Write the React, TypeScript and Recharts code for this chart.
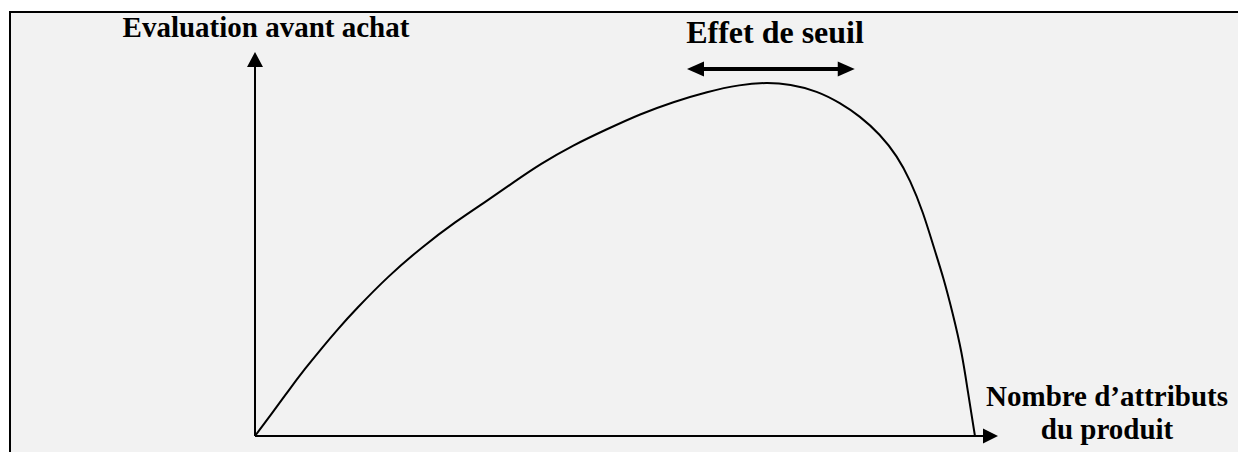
import { LineChart, Line, XAxis, YAxis, ReferenceLine } from "recharts";

// courbe : évaluation avant achat selon le nombre d'attributs (unités arbitraires)
const attributs = [0, 2.4, 4.6, 6.9, 9.3, 11.5, 13.9, 18.5, 23.2, 27.8, 32.4, 36, 39.6, 44.2, 48.9, 53.5, 58.1, 62.8, 67.4, 71.1, 74.3, 78.1, 81.3, 84, 86.8, 89.2, 91, 92.8, 94.4, 95.6, 96.9, 98.2, 99, 100];
const evaluation = [0, 6.5, 12.7, 18.9, 24.9, 30.2, 35.6, 45.2, 53.4, 60.5, 66.7, 71.8, 76.8, 82.2, 86.7, 91, 94.4, 97.3, 99.3, 99.9, 99.4, 97.5, 94.1, 90.4, 85.3, 79.1, 72.3, 63.3, 52.5, 44.9, 34.8, 23.5, 12.7, 0];

// zone "effet de seuil"
const seuilDebut = 60;
const seuilFin = 83.3;
const seuilNiveau = 103.7;

const xMax = 103.2;
const yMax = 108.5;

const data = attributs.map((x, i) => ({ x, y: evaluation[i] }));

const font = '"Liberation Serif", "Times New Roman", serif';

type Pts = { x1?: number; y1?: number; x2?: number; y2?: number };

function arrow(len: number, half: number, width: number, both = false) {
  return (p: Pts) => {
    const x1 = Number(p.x1), y1 = Number(p.y1), x2 = Number(p.x2), y2 = Number(p.y2);
    const d = Math.hypot(x2 - x1, y2 - y1) || 1;
    const ux = (x2 - x1) / d, uy = (y2 - y1) / d;
    const head = (tx: number, ty: number, dx: number, dy: number) => {
      const bx = tx - dx * len, by = ty - dy * len;
      return `${tx},${ty} ${bx - dy * half},${by + dx * half} ${bx + dy * half},${by - dx * half}`;
    };
    const sx = both ? x1 + ux * (len - 2) : x1;
    const sy = both ? y1 + uy * (len - 2) : y1;
    return (
      <g>
        <line x1={sx} y1={sy} x2={x2 - ux * (len - 2)} y2={y2 - uy * (len - 2)} stroke="#000" strokeWidth={width} />
        <polygon points={head(x2, y2, ux, uy)} fill="#000" />
        {both && <polygon points={head(x1, y1, -ux, -uy)} fill="#000" />}
      </g>
    );
  };
}

export default function App() {
  return (
    <div style={{ position: "fixed", left: 0, top: 0, width: 1238, height: 452, background: "#fff", overflow: "hidden" }}>
      <div style={{ position: "absolute", left: 9, top: 11, right: 0, bottom: 0, borderLeft: "2px solid #000", borderTop: "2px solid #000", background: "#f2f2f2" }} />
      <div style={{ position: "absolute", left: 0, top: 0 }}>
        <LineChart width={1238} height={452} data={data} margin={{ top: 52, right: 240, bottom: 16, left: 255 }}>
          <XAxis type="number" dataKey="x" domain={[0, xMax]} hide />
          <YAxis type="number" domain={[0, yMax]} hide />
          <ReferenceLine segment={[{ x: 0, y: 0 }, { x: 0, y: yMax }]} shape={arrow(15, 8, 2)} ifOverflow="visible" />
          <ReferenceLine segment={[{ x: 0, y: 0 }, { x: xMax, y: 0 }]} shape={arrow(15, 7.5, 2)} ifOverflow="visible" />
          <ReferenceLine segment={[{ x: seuilDebut, y: seuilNiveau }, { x: seuilFin, y: seuilNiveau }]} shape={arrow(17, 7.5, 4, true)} ifOverflow="visible" />
          <Line type="basis" dataKey="y" stroke="#000" strokeWidth={2} dot={false} isAnimationActive={false} />
          <text x={266} y={37} textAnchor="middle" fontFamily={font} fontWeight="bold" fontSize={29}>Evaluation avant achat</text>
          <text x={775} y={43} textAnchor="middle" fontFamily={font} fontWeight="bold" fontSize={32}>Effet de seuil</text>
          <text x={1107} y={406} textAnchor="middle" fontFamily={font} fontWeight="bold" fontSize={29}>Nombre d’attributs</text>
          <text x={1107} y={439} textAnchor="middle" fontFamily={font} fontWeight="bold" fontSize={29}>du produit</text>
        </LineChart>
      </div>
    </div>
  );
}
